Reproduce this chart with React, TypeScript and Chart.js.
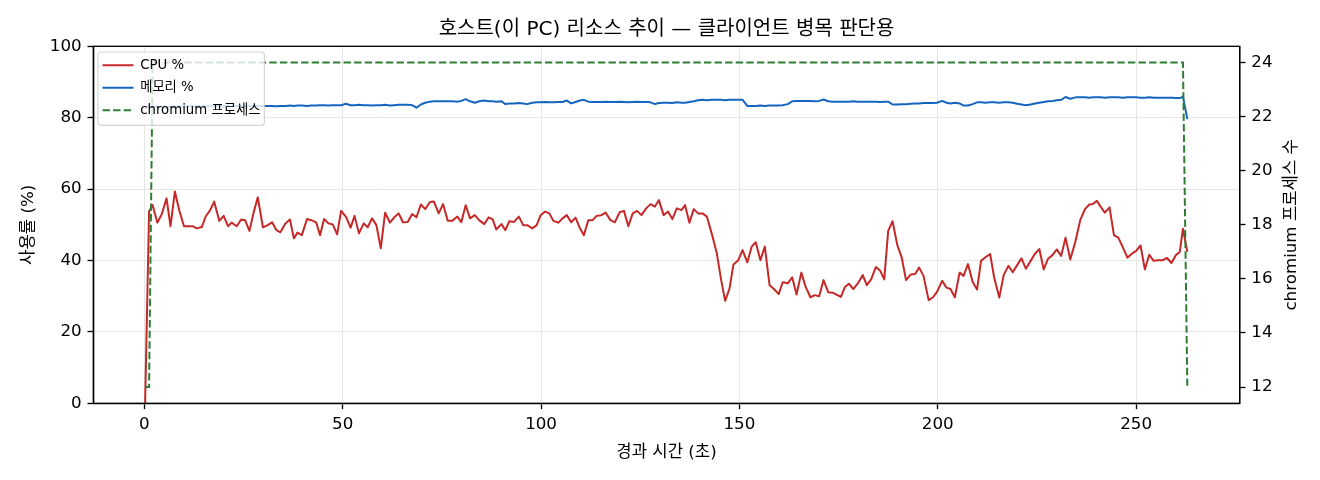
import React, { useEffect, useRef } from 'react';
import { Chart, registerables } from 'chart.js';

Chart.register(...registerables);

const TITLE = '호스트(이 PC) 리소스 추이 — 클라이언트 병목 판단용';
const X_LABEL = '경과 시간 (초)';
const Y_LABEL = '사용률 (%)';
const Y2_LABEL = 'chromium 프로세스 수';
const SERIES_LABELS = ['CPU %', '메모리 %', 'chromium 프로세스'];

const X_TICKS = [0, 50, 100, 150, 200, 250];
const Y_TICKS = [0, 20, 40, 60, 80, 100];
const Y2_TICKS = [12, 14, 16, 18, 20, 22, 24];

// elapsed seconds of each sample
const TIME_S = [
  0.2, 1.2, 2.1, 3.3, 4.4, 5.6, 6.6, 7.7, 8.8, 10.0,
  11.1, 12.2, 13.2, 14.5, 15.5, 16.6, 17.6, 18.9, 20.0, 21.1,
  22.0, 23.3, 24.4, 25.4, 26.5, 27.5, 28.6, 29.9, 31.1, 32.2,
  33.3, 34.3, 35.6, 36.7, 37.7, 38.6, 39.7, 41.0, 42.1, 43.3,
  44.3, 45.3, 46.4, 47.5, 48.6, 49.6, 50.8, 52.0, 53.0, 54.1,
  55.3, 56.3, 57.4, 58.5, 59.6, 60.7, 61.9, 63.0, 64.1, 65.2,
  66.4, 67.5, 68.6, 69.7, 70.8, 72.0, 73.0, 74.2, 75.3, 76.5,
  77.6, 78.9, 79.9, 81.0, 82.1, 83.3, 84.4, 85.7, 86.8, 87.8,
  88.7, 90.0, 91.0, 92.0, 93.2, 94.4, 95.5, 96.5, 97.8, 98.9,
  99.9, 101.0, 102.1, 103.1, 104.4, 105.4, 106.5, 107.6, 108.7, 109.8,
  110.8, 111.9, 113.0, 114.0, 115.2, 116.3, 117.5, 118.6, 119.8, 120.9,
  122.0, 123.1, 124.2, 125.3, 126.5, 127.6, 128.7, 129.7, 130.9, 132.0,
  133.1, 134.2, 135.4, 136.3, 137.4, 138.5, 139.6, 140.7, 141.8, 143.0,
  144.3, 145.4, 146.4, 147.5, 148.5, 149.7, 150.8, 152.0, 153.1, 154.1,
  155.3, 156.4, 157.6, 158.7, 159.9, 160.9, 162.2, 163.3, 164.4, 165.6,
  166.7, 167.9, 169.0, 170.1, 171.2, 172.4, 173.5, 174.7, 175.6, 176.6,
  177.6, 178.7, 179.8, 181.1, 182.1, 183.2, 184.4, 185.5, 186.5, 187.5,
  188.6, 189.8, 190.9, 192.0, 193.2, 194.3, 195.3, 196.4, 197.7, 198.8,
  199.8, 201.1, 202.2, 203.2, 204.3, 205.5, 206.5, 207.6, 208.8, 209.9,
  210.9, 212.0, 213.2, 214.2, 215.5, 216.6, 217.8, 218.9, 220.0, 221.1,
  222.2, 223.4, 224.5, 225.6, 226.7, 227.8, 228.9, 230.0, 231.1, 232.2,
  233.4, 234.7, 235.9, 237.1, 238.2, 239.1, 240.1, 241.1, 242.1, 243.3,
  244.4, 245.5, 246.6, 247.8, 248.9, 250.0, 251.1, 252.2, 253.3, 254.4,
  255.5, 256.7, 257.8, 258.9, 260.0, 261.0, 261.8, 262.9,
];

const CPU_PCT = [
  0.0, 53.7, 55.5, 50.6, 53.0, 57.4, 49.6, 59.3, 54.1, 49.6,
  49.6, 49.6, 49.0, 49.4, 52.4, 54.1, 56.5, 51.1, 52.5, 49.6,
  50.6, 49.6, 51.5, 51.3, 48.3, 53.2, 57.7, 49.3, 49.9, 50.7,
  48.5, 47.9, 50.4, 51.5, 46.2, 47.8, 47.1, 51.6, 51.3, 50.7,
  47.1, 51.6, 50.4, 50.1, 47.3, 53.9, 52.3, 49.2, 52.5, 47.6,
  50.4, 49.3, 51.8, 49.9, 43.4, 53.4, 50.6, 52.1, 53.2, 50.7,
  50.8, 53.0, 52.1, 55.7, 54.4, 56.4, 56.5, 53.2, 55.8, 51.1,
  51.1, 52.3, 50.7, 55.5, 51.8, 52.7, 51.3, 50.2, 52.1, 51.5,
  48.7, 50.2, 48.5, 51.0, 50.8, 52.3, 49.9, 49.9, 49.0, 49.9,
  52.7, 53.7, 53.2, 51.1, 50.6, 51.8, 52.7, 50.7, 52.0, 49.0,
  47.1, 51.3, 51.3, 52.5, 52.7, 53.4, 51.3, 50.7, 53.5, 53.9,
  49.6, 53.2, 53.9, 52.7, 54.6, 55.8, 55.1, 56.9, 52.7, 53.7,
  51.6, 54.6, 54.1, 55.5, 50.6, 54.4, 53.2, 53.2, 52.3, 47.6,
  42.0, 34.5, 28.7, 32.1, 38.9, 40.1, 42.9, 39.5, 43.9, 45.1,
  40.1, 43.9, 33.1, 32.0, 30.6, 33.9, 33.6, 35.3, 30.5, 36.6,
  32.6, 29.7, 30.3, 30.0, 34.5, 31.1, 31.0, 30.3, 29.8, 32.6,
  33.5, 32.0, 33.5, 35.9, 33.1, 34.7, 38.2, 37.1, 34.7, 48.3,
  51.0, 44.3, 40.9, 34.5, 36.1, 36.2, 38.0, 35.7, 28.9, 29.7,
  31.2, 34.3, 32.4, 32.0, 29.7, 36.6, 35.7, 39.0, 34.0, 31.9,
  39.9, 40.9, 41.8, 35.3, 29.6, 35.9, 38.5, 36.7, 38.7, 40.6,
  37.7, 39.9, 41.9, 43.2, 37.5, 40.5, 41.5, 43.1, 41.3, 46.4,
  40.3, 45.4, 51.3, 54.4, 55.7, 55.8, 56.7, 55.0, 53.4, 54.9,
  47.1, 46.4, 43.8, 40.8, 41.9, 42.7, 44.2, 37.5, 41.6, 39.9,
  40.1, 40.1, 40.7, 39.3, 41.5, 42.4, 48.9, 42.4,
];

const MEM_PCT = [
  83.1, 83.1, 83.1, 83.1, 83.1, 83.1, 83.1, 83.1, 83.1, 83.2,
  83.2, 83.2, 83.2, 83.2, 83.2, 83.2, 83.2, 83.2, 83.2, 83.3,
  83.2, 83.2, 83.3, 83.2, 83.3, 83.3, 83.2, 83.3, 83.3, 83.3,
  83.2, 83.3, 83.3, 83.4, 83.3, 83.4, 83.4, 83.3, 83.4, 83.4,
  83.5, 83.5, 83.4, 83.5, 83.5, 83.5, 83.9, 83.5, 83.5, 83.6,
  83.5, 83.5, 83.4, 83.5, 83.5, 83.6, 83.4, 83.5, 83.6, 83.6,
  83.6, 83.5, 82.8, 83.7, 84.2, 84.5, 84.6, 84.6, 84.6, 84.6,
  84.6, 84.5, 84.7, 85.2, 84.6, 84.2, 84.6, 84.8, 84.6, 84.6,
  84.5, 84.6, 83.8, 84.0, 84.0, 84.1, 84.0, 83.8, 84.2, 84.3,
  84.3, 84.4, 84.3, 84.3, 84.4, 84.4, 84.8, 84.0, 84.4, 84.8,
  85.0, 84.5, 84.4, 84.4, 84.4, 84.5, 84.4, 84.4, 84.5, 84.4,
  84.3, 84.4, 84.5, 84.4, 84.4, 84.3, 83.8, 84.1, 84.2, 84.2,
  84.1, 84.3, 84.2, 84.2, 84.4, 84.6, 84.9, 85.0, 84.9, 85.0,
  85.0, 85.0, 84.9, 85.0, 85.0, 85.0, 85.0, 83.3, 83.3, 83.3,
  83.4, 83.3, 83.4, 83.4, 83.4, 83.5, 83.8, 84.6, 84.7, 84.7,
  84.7, 84.7, 84.6, 84.7, 85.1, 84.6, 84.5, 84.5, 84.5, 84.5,
  84.5, 84.6, 84.5, 84.5, 84.5, 84.5, 84.5, 84.4, 84.5, 84.5,
  83.7, 83.7, 83.8, 83.8, 83.9, 84.0, 84.0, 84.1, 84.1, 84.1,
  84.2, 84.7, 84.2, 84.0, 84.2, 84.0, 83.4, 83.4, 83.8, 84.3,
  84.3, 84.2, 84.3, 84.3, 84.2, 84.3, 84.3, 84.2, 83.9, 83.7,
  83.5, 83.7, 84.0, 84.2, 84.4, 84.6, 84.7, 84.9, 85.0, 85.8,
  85.3, 85.7, 85.7, 85.7, 85.6, 85.7, 85.7, 85.7, 85.6, 85.7,
  85.7, 85.7, 85.6, 85.7, 85.7, 85.7, 85.6, 85.6, 85.7, 85.6,
  85.6, 85.6, 85.6, 85.6, 85.5, 85.5, 85.9, 79.6,
];

// chromium process count: step changes
const PROC_TIME_S = [0.2, 1.2, 2.1, 261.8, 262.9];
const PROC_COUNT = [12, 12, 24, 24, 12];

const FONT = '"DejaVu Sans", "Noto Sans CJK KR", sans-serif';
const COLORS = ['#c62828', '#1565c0', '#2e7d32'];

function drawLegendOnTop(chart: any) {
  const lg = chart.legend;
  if (!lg) return;
  const a = chart.chartArea;
  const ctx = chart.ctx;
  const dx = a.left - lg.left;
  const dy = a.top - lg.top + 3;
  ctx.save();
  ctx.translate(dx, dy);
  const boxes = lg.legendHitBoxes || [];
  if (boxes.length) {
    const l = Math.min(...boxes.map((b: any) => b.left)) - 4.5;
    const t = Math.min(...boxes.map((b: any) => b.top)) - 6.5;
    const r = Math.max(...boxes.map((b: any) => b.left + b.width)) + 4;
    const bt = Math.max(...boxes.map((b: any) => b.top + b.height)) + 8.5;
    ctx.beginPath();
    if (ctx.roundRect) ctx.roundRect(l, t, r - l, bt - t, 3);
    else ctx.rect(l, t, r - l, bt - t);
    ctx.fillStyle = 'rgba(255,255,255,0.8)';
    ctx.fill();
    ctx.strokeStyle = 'rgba(204,204,204,0.8)';
    ctx.lineWidth = 1.2;
    ctx.stroke();
  }
  lg.draw();
  ctx.restore();
}

export default function App() {
  const ref = useRef<HTMLCanvasElement>(null);

  useEffect(() => {
    const canvas = ref.current;
    if (!canvas) return;
    Chart.defaults.font.family = FONT;
    Chart.defaults.color = '#000';

    const fixTicks = (values: number[]) => (scale: any) => {
      scale.ticks = values.map((v) => ({ value: v }));
    };
    const tickFont = { family: FONT, size: 16.7 };
    const labelFont = { family: FONT, size: 16.7 };

    const framePlugin = {
      id: 'frameAndRightTitle',
      afterDatasetsDraw(chart: any) {
        const { ctx, chartArea: a } = chart;
        ctx.save();
        ctx.strokeStyle = '#000';
        ctx.lineWidth = 1.33;
        ctx.strokeRect(a.left, a.top, a.right - a.left, a.bottom - a.top);
        ctx.restore();
      },
      afterDraw(chart: any) {
        const { ctx, chartArea: a } = chart;
        const s = chart.scales.y1;
        ctx.save();
        ctx.font = `16.7px ${FONT}`;
        ctx.fillStyle = '#000';
        ctx.textAlign = 'center';
        ctx.textBaseline = 'middle';
        ctx.translate(s.right - 28.5, (a.top + a.bottom) / 2);
        ctx.rotate(-Math.PI / 2);
        ctx.fillText(Y2_LABEL, 0, 0);
        ctx.restore();
      },
    };

    const chart: any = new Chart(canvas, {
      type: 'line',
      data: {
        datasets: [
          {
            label: SERIES_LABELS[0],
            data: TIME_S.map((t, i) => ({ x: t, y: CPU_PCT[i] })),
            borderColor: COLORS[0],
            backgroundColor: COLORS[0],
            borderWidth: 2,
            pointRadius: 0,
            tension: 0,
            borderJoinStyle: 'round',
            yAxisID: 'y',
            order: 2,
          },
          {
            label: SERIES_LABELS[1],
            data: TIME_S.map((t, i) => ({ x: t, y: MEM_PCT[i] })),
            borderColor: COLORS[1],
            backgroundColor: COLORS[1],
            borderWidth: 2,
            pointRadius: 0,
            tension: 0,
            borderJoinStyle: 'round',
            yAxisID: 'y',
            order: 1,
          },
          {
            label: SERIES_LABELS[2],
            data: PROC_TIME_S.map((t, i) => ({ x: t, y: PROC_COUNT[i] })),
            borderColor: COLORS[2],
            backgroundColor: COLORS[2],
            borderWidth: 2,
            borderDash: [7.4, 3.2],
            pointRadius: 0,
            tension: 0,
            yAxisID: 'y1',
            order: 0,
          },
        ],
      } as any,
      options: {
        animation: false,
        responsive: false,
        events: [],
        layout: { padding: 0 },
        scales: {
          x: {
            type: 'linear',
            position: 'bottom',
            min: -12.86,
            max: 276.1,
            afterBuildTicks: fixTicks(X_TICKS),
            afterFit: (s: any) => { s.height = 76.7; },
            ticks: { font: tickFont, color: '#000', padding: 5.8 },
            grid: { color: '#e6e6e6', lineWidth: 1, drawTicks: true, tickLength: 5.8, tickColor: '#000', tickWidth: 1.33 },
            border: { display: true, color: '#000', width: 1.33 },
            title: { display: true, text: X_LABEL, font: labelFont, color: '#000', padding: { top: 0, bottom: 17.5 } },
          },
          y: {
            type: 'linear',
            position: 'left',
            min: 0,
            max: 100,
            afterBuildTicks: fixTicks(Y_TICKS),
            afterFit: (s: any) => { s.width = 93.3; },
            ticks: { font: tickFont, color: '#000', padding: 5.8 },
            grid: { color: '#e6e6e6', lineWidth: 1, drawTicks: true, tickLength: 5.8, tickColor: '#000', tickWidth: 1.33 },
            border: { display: true, color: '#000', width: 1.33 },
            title: { display: true, text: Y_LABEL, font: labelFont, color: '#000', padding: { top: 18.5, bottom: 0 } },
          },
          y1: {
            type: 'linear',
            position: 'right',
            min: 11.4,
            max: 24.6,
            afterBuildTicks: fixTicks(Y2_TICKS),
            afterFit: (s: any) => { s.width = 80.3; },
            ticks: { font: tickFont, color: '#000', padding: 5.8 },
            grid: { drawOnChartArea: false, drawTicks: true, tickLength: 5.8, tickColor: '#000', tickWidth: 1.33 },
            border: { display: true, color: '#000', width: 1.33 },
            title: { display: false, text: Y2_LABEL },
          },
        } as any,
        plugins: {
          title: {
            display: true,
            text: TITLE,
            fullSize: false,
            color: '#000',
            font: { family: FONT, size: 20, weight: 'normal', lineHeight: 1.2 },
            padding: { top: 18, bottom: 4.3 },
          },
          tooltip: { enabled: false },
          legend: {
            display: true,
            position: 'chartArea',
            align: 'start',
            labels: {
              usePointStyle: true,
              pointStyle: 'line',
              pointStyleWidth: 31,
              padding: 9.2,
              color: '#000',
              font: { family: FONT, size: 13.3 },
              generateLabels: (c: any) =>
                c.data.datasets.map((ds: any, i: number) => ({
                  text: ds.label,
                  fillStyle: ds.borderColor,
                  strokeStyle: ds.borderColor,
                  lineWidth: ds.borderWidth,
                  lineDash: ds.borderDash || [],
                  lineCap: 'butt',
                  pointStyle: 'line',
                  hidden: false,
                  datasetIndex: i,
                  fontColor: '#000',
                })),
            },
          },
        } as any,
      },
      plugins: [framePlugin],
    });

    if (chart.legend) {
      chart.legend._layers = () => [{ z: 1, draw: () => drawLegendOnTop(chart) }];
      chart.update();
    }

    return () => chart.destroy();
  }, []);

  return (
    <div style={{ position: 'absolute', left: 0, top: 0, width: 1320, height: 480, background: '#fff' }}>
      <canvas ref={ref} width={1320} height={480} style={{ display: 'block', width: 1320, height: 480 }} />
    </div>
  );
}
